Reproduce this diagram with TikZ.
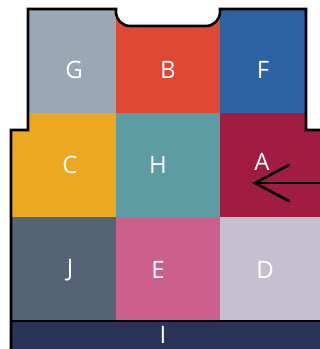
\documentclass[tikz,border=0pt]{standalone}
\usepackage{fontspec}
\setmainfont{Open Sans}
\usetikzlibrary{calc}
\definecolor{cG}{HTML}{9AA8B5}
\definecolor{cB}{HTML}{E04836}
\definecolor{cF}{HTML}{2D62A5}
\definecolor{cC}{HTML}{EDA823}
\definecolor{cH}{HTML}{5E9CA3}
\definecolor{cA}{HTML}{A01C43}
\definecolor{cJ}{HTML}{546375}
\definecolor{cE}{HTML}{CB608C}
\definecolor{cD}{HTML}{C5BFD0}
\definecolor{cI}{HTML}{2A3358}
\tikzset{
  lbl/.style={text=white,font=\fontsize{24}{24}\selectfont,inner sep=0pt,anchor=center},
  outline/.style={draw=black,line width=2.6pt,line join=miter},
}
\begin{document}
\begin{tikzpicture}[x=1pt,y=-1pt]
\useasboundingbox (0,0) rectangle (320,349);
\begin{scope}
\clip (11,349) -- (11,130) -- (28,130) -- (28,9) -- (116,9) -- (116,12)
  .. controls (116,19.7) and (122.3,26) .. (130,26) -- (206,26)
  .. controls (213.7,26) and (220,19.7) .. (220,12) -- (220,9)
  -- (306,9) -- (306,130) -- (320,130) -- (320,349) -- cycle;
\fill[cG] (0,0) rectangle (116,113);
\fill[cB] (116,0) rectangle (220,113);
\fill[cF] (220,0) rectangle (306,113);
\fill[cC] (0,113) rectangle (116,217);
\fill[cH] (116,113) rectangle (220,217);
\fill[cA] (220,113) rectangle (320,217);
\fill[cJ] (0,217) rectangle (116,321);
\fill[cE] (116,217) rectangle (220,321);
\fill[cD] (220,217) rectangle (320,321);
\fill[cI] (0,321) rectangle (320,349);
\end{scope}
\draw[outline] (11,349) -- (11,130) -- (28,130) -- (28,9) -- (116,9) -- (116,12)
  .. controls (116,19.7) and (122.3,26) .. (130,26) -- (206,26)
  .. controls (213.7,26) and (220,19.7) .. (220,12) -- (220,9)
  -- (306,9) -- (306,130) -- (320,130);
\draw[black,line width=2.6pt] (11,321) -- (320,321);
\node[lbl] (G) at (74,70) {G};
\node[lbl] (B) at (168,70) {B};
\node[lbl] (F) at (263,70) {F};
\node[lbl] (C) at (70,165) {C};
\node[lbl] (H) at (158,165) {H};
\node[lbl] (A) at (262,162) {A};
\node[lbl] (J) at (70,270) {J};
\node[lbl] (E) at (158,270) {E};
\node[lbl] (D) at (265,270) {D};
\node[lbl] (I) at (163,335) {I};
\coordinate (arrowstart) at (322,183);
\coordinate (arrowtip) at (255,183);
\draw[line width=2.6pt] (arrowstart) -- (arrowtip);
\draw[line width=2.6pt,line cap=round,line join=miter] ($(arrowtip)+(34,-18)$) -- (arrowtip) -- ($(arrowtip)+(34,18)$);
\end{tikzpicture}
\end{document}
